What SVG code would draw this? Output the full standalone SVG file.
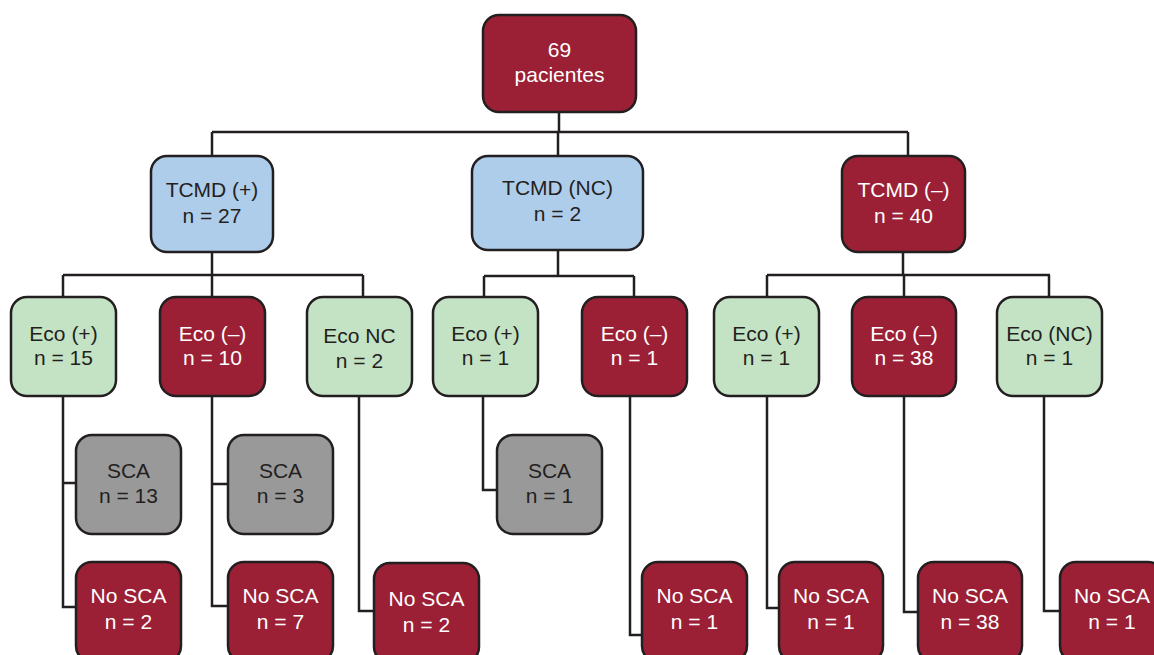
<svg xmlns="http://www.w3.org/2000/svg" width="1154" height="655" viewBox="0 0 1154 655">
<style>
.box{stroke:#231F20;stroke-width:2.5}
.red{fill:#9B2035}
.blue{fill:#AECDEB}
.green{fill:#C4E3C4}
.gray{fill:#999999}
text{font-family:"Liberation Sans",Arial,sans-serif;font-size:21px;text-anchor:middle}
.lt{fill:#FFFFFF}
.dk{fill:#231F20}
.conn{fill:none;stroke:#231F20;stroke-width:2.5}
</style>
<rect width="1154" height="655" fill="#FFFFFF"/>
<g id="connectors" class="conn">
<path d="M559 112V132M212 132H908M212 132V156M558 132V156M908 132V156"/>
<path d="M212 252V275M63 275H363M63 275V297M212 275V297M363 275V297"/>
<path d="M558 250V276M484 276H634M484 276V297M634 276V297"/>
<path d="M903 252V275M767 275H1050M767 275V297M904 275V297M1049 275V297"/>
<path d="M63 396V607H76M63 483H76"/>
<path d="M212 396V606H228M212 484H228"/>
<path d="M359 396V611H374"/>
<path d="M483 396V490H497"/>
<path d="M630 396V635H642"/>
<path d="M767 396V608H779"/>
<path d="M904 396V612H918"/>
<path d="M1044 396V611H1060"/>
</g>
<g id="root"><rect class="box red" x="483" y="15" width="153" height="97" rx="16"/><text class="lt" x="559.5" y="57">69</text><text class="lt" x="559.5" y="82">pacientes</text></g>
<g id="tcmd-pos"><rect class="box blue" x="151" y="156" width="122" height="96" rx="16"/><text class="dk" x="212" y="197">TCMD (+)</text><text class="dk" x="212" y="223">n = 27</text></g>
<g id="tcmd-nc"><rect class="box blue" x="472" y="156" width="171" height="94" rx="16"/><text class="dk" x="557.5" y="195">TCMD (NC)</text><text class="dk" x="557.5" y="221">n = 2</text></g>
<g id="tcmd-neg"><rect class="box red" x="842" y="156" width="123" height="96" rx="16"/><text class="lt" x="903.5" y="197">TCMD (–)</text><text class="lt" x="903.5" y="223">n = 40</text></g>
<g id="eco1"><rect class="box green" x="11" y="297" width="105" height="99" rx="16"/><text class="dk" x="63.5" y="341">Eco (+)</text><text class="dk" x="63.5" y="365">n = 15</text></g>
<g id="eco2"><rect class="box red" x="160" y="297" width="105" height="99" rx="16"/><text class="lt" x="212.5" y="341">Eco (–)</text><text class="lt" x="212.5" y="365">n = 10</text></g>
<g id="eco3"><rect class="box green" x="307" y="297" width="105" height="99" rx="16"/><text class="dk" x="359.5" y="343">Eco NC</text><text class="dk" x="359.5" y="368">n = 2</text></g>
<g id="eco4"><rect class="box green" x="433" y="297" width="105" height="99" rx="16"/><text class="dk" x="485.5" y="341">Eco (+)</text><text class="dk" x="485.5" y="365">n = 1</text></g>
<g id="eco5"><rect class="box red" x="582" y="297" width="105" height="99" rx="16"/><text class="lt" x="634.5" y="341">Eco (–)</text><text class="lt" x="634.5" y="365">n = 1</text></g>
<g id="eco6"><rect class="box green" x="714" y="297" width="105" height="99" rx="16"/><text class="dk" x="766.5" y="341">Eco (+)</text><text class="dk" x="766.5" y="365">n = 1</text></g>
<g id="eco7"><rect class="box red" x="852" y="297" width="104" height="99" rx="16"/><text class="lt" x="904" y="341">Eco (–)</text><text class="lt" x="904" y="365">n = 38</text></g>
<g id="eco8"><rect class="box green" x="997" y="297" width="105" height="99" rx="16"/><text class="dk" x="1049.5" y="341">Eco (NC)</text><text class="dk" x="1049.5" y="365">n = 1</text></g>
<g id="sca1"><rect class="box gray" x="76" y="435" width="105" height="99" rx="16"/><text class="dk" x="128.5" y="478">SCA</text><text class="dk" x="128.5" y="503">n = 13</text></g>
<g id="sca2"><rect class="box gray" x="228" y="435" width="105" height="99" rx="16"/><text class="dk" x="280.5" y="478">SCA</text><text class="dk" x="280.5" y="503">n = 3</text></g>
<g id="sca3"><rect class="box gray" x="497" y="435" width="105" height="99" rx="16"/><text class="dk" x="549.5" y="478">SCA</text><text class="dk" x="549.5" y="503">n = 1</text></g>
<g id="nosca1"><rect class="box red" x="76" y="562" width="105" height="100" rx="16"/><text class="lt" x="128.5" y="603">No SCA</text><text class="lt" x="128.5" y="629">n = 2</text></g>
<g id="nosca2"><rect class="box red" x="228" y="562" width="105" height="100" rx="16"/><text class="lt" x="280.5" y="603">No SCA</text><text class="lt" x="280.5" y="629">n = 7</text></g>
<g id="nosca3"><rect class="box red" x="374" y="563" width="105" height="100" rx="16"/><text class="lt" x="426.5" y="606">No SCA</text><text class="lt" x="426.5" y="632">n = 2</text></g>
<g id="nosca4"><rect class="box red" x="642" y="562" width="105" height="100" rx="16"/><text class="lt" x="694.5" y="603">No SCA</text><text class="lt" x="694.5" y="629">n = 1</text></g>
<g id="nosca5"><rect class="box red" x="779" y="562" width="104" height="100" rx="16"/><text class="lt" x="831" y="603">No SCA</text><text class="lt" x="831" y="629">n = 1</text></g>
<g id="nosca6"><rect class="box red" x="918" y="562" width="104" height="100" rx="16"/><text class="lt" x="970" y="603">No SCA</text><text class="lt" x="970" y="629">n = 38</text></g>
<g id="nosca7"><rect class="box red" x="1060" y="562" width="104" height="100" rx="16"/><text class="lt" x="1112" y="603">No SCA</text><text class="lt" x="1112" y="629">n = 1</text></g>
</svg>
